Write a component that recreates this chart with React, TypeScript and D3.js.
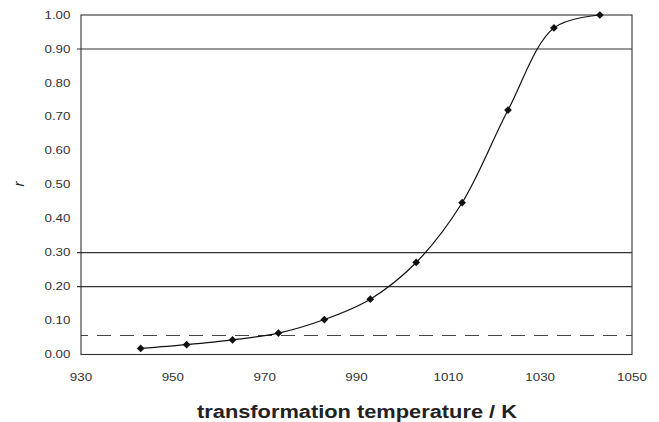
import React from "react";
import * as d3 from "d3";

// Transformation temperature (K) and fraction transformed r
const temperatures = [943, 953, 963, 973, 983, 993, 1003, 1013, 1023, 1033, 1043];
const fractions = [0.018, 0.029, 0.043, 0.063, 0.103, 0.163, 0.271, 0.447, 0.72, 0.962, 1.0];

const xTicks = [930, 950, 970, 990, 1010, 1030, 1050];
const yTicks = [0, 0.1, 0.2, 0.3, 0.4, 0.5, 0.6, 0.7, 0.8, 0.9, 1.0];
const solidRefLines = [0.2, 0.3, 0.9];
const dashedRefLine = 0.056;

const W = 659;
const H = 422;
const margin = { left: 81, right: 27, top: 15, bottom: 67.5 };

export default function App() {
  const x = d3
    .scaleLinear()
    .domain([930, 1050])
    .range([margin.left, W - margin.right]);
  const y = d3
    .scaleLinear()
    .domain([0, 1])
    .range([H - margin.bottom, margin.top]);

  const pts: [number, number][] = temperatures.map((t, i) => [t, fractions[i]]);
  const line = d3
    .line<[number, number]>()
    .x((d) => x(d[0]))
    .y((d) => y(d[1]))
    .curve(d3.curveCatmullRom.alpha(0.5));

  // diamond marker: a square turned by 45 degrees
  const marker = d3.symbol(d3.symbolSquare, 30)();
  const axisColor = "#333";
  const font = "Liberation Sans, Arial, sans-serif";
  const tickScaleX = 1.3;

  return (
    <svg
      width={W}
      height={H}
      style={{ position: "absolute", left: 0, top: 0, background: "#fff" }}
    >
      {/* reference lines */}
      {solidRefLines.map((v) => (
        <line
          key={v}
          x1={x(930) - 4}
          x2={x(1050)}
          y1={y(v)}
          y2={y(v)}
          stroke={axisColor}
          strokeWidth={1.1}
        />
      ))}
      <line
        x1={x(930)}
        x2={x(1050)}
        y1={y(dashedRefLine)}
        y2={y(dashedRefLine)}
        stroke="#444"
        strokeWidth={1.1}
        strokeDasharray="14,9"
        strokeDashoffset={7}
      />

      {/* plot frame */}
      <rect
        x={x(930)}
        y={y(1)}
        width={x(1050) - x(930)}
        height={y(0) - y(1)}
        fill="none"
        stroke={axisColor}
        strokeWidth={1.1}
      />

      {/* y tick labels */}
      {yTicks.map((v) => (
        <text
          key={v}
          transform={`translate(70.5,${y(v)}) scale(${tickScaleX},1)`}
          dy="0.35em"
          textAnchor="end"
          fontFamily={font}
          fontSize={10.3}
          fill="#333"
        >
          {v.toFixed(2)}
        </text>
      ))}

      {/* x tick labels */}
      {xTicks.map((v) => (
        <text
          key={v}
          transform={`translate(${x(v)},${y(0) + 26}) scale(${tickScaleX},1)`}
          textAnchor="middle"
          fontFamily={font}
          fontSize={10.3}
          fill="#333"
        >
          {v}
        </text>
      ))}

      {/* curve and markers */}
      <path d={line(pts) ?? ""} fill="none" stroke="#111" strokeWidth={1.2} />
      {pts.map((p, i) => (
        <path
          key={i}
          d={marker ?? ""}
          transform={`translate(${x(p[0])},${y(p[1])}) rotate(45)`}
          fill="#111"
        />
      ))}

      {/* axis titles */}
      <text
        x={357}
        y={418}
        textAnchor="middle"
        fontFamily={font}
        fontWeight="bold"
        fontSize={18}
        textLength={320}
        lengthAdjust="spacingAndGlyphs"
        fill="#222"
      >
        transformation temperature / K
      </text>
      <text
        transform={`translate(24,184) rotate(-90)`}
        textAnchor="middle"
        fontFamily={font}
        fontStyle="italic"
        fontSize={15}
        fill="#222"
      >
        r
      </text>
    </svg>
  );
}
